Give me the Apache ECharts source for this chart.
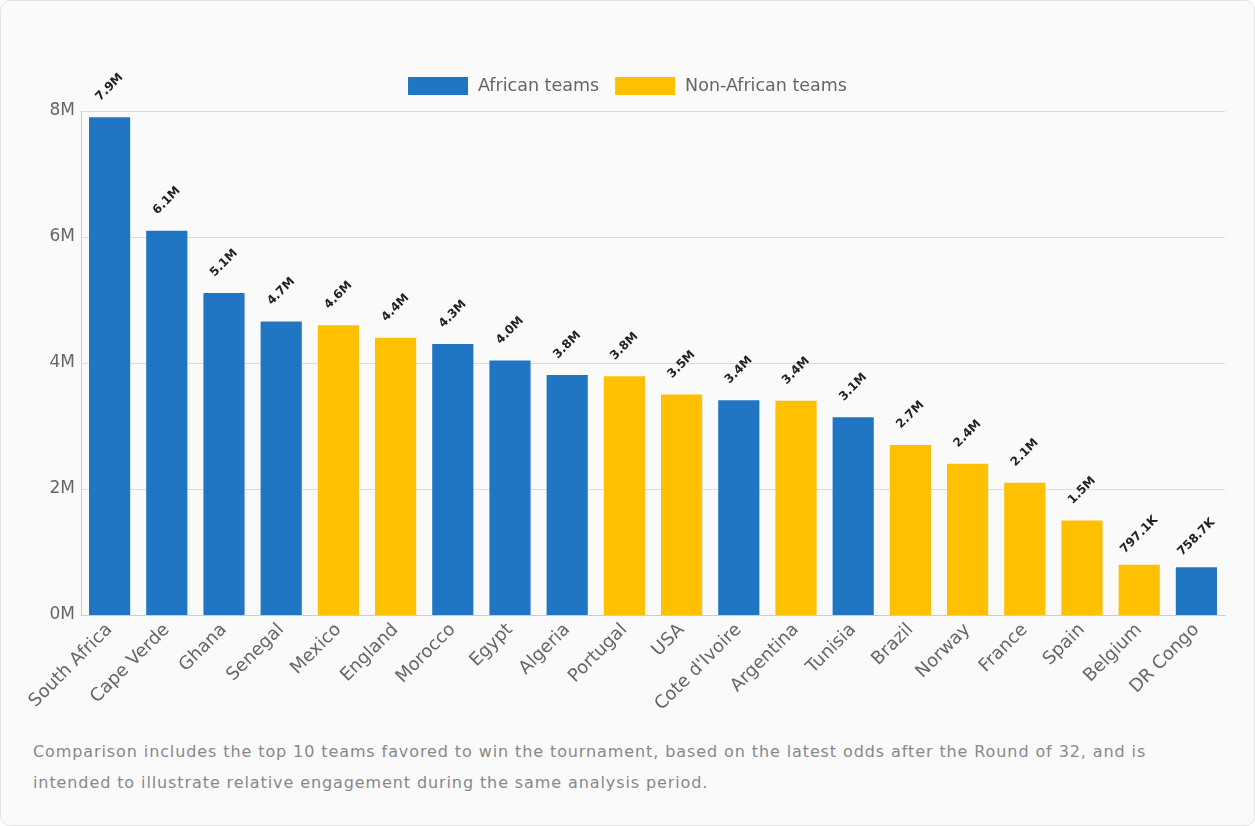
<!DOCTYPE html>
<html>
<head>
<meta charset="utf-8">
<script src="https://cdn.jsdelivr.net/npm/echarts@6/dist/echarts.min.js"></script>
<style>
  html, body { margin: 0; padding: 0; background: #ffffff; }
  .card {
    position: relative;
    width: 1253px;
    height: 824px;
    border: 1px solid #e3e3e3;
    border-radius: 10px;
    background: #fafafa;
    overflow: hidden;
  }
  #chart { position: absolute; left: 0; top: 0; width: 1253px; height: 720px; }
  .note {
    position: absolute;
    left: 32px;
    top: 735px;
    width: 1175px;
    font-family: 'DejaVu Sans', sans-serif;
    font-size: 16px;
    letter-spacing: 0.9px;
    line-height: 31px;
    color: #888;
  }
</style>
</head>
<body>
<div class="card">
  <div id="chart"></div>
  <div class="note">Comparison includes the top 10 teams favored to win the tournament, based on the latest odds after the Round of 32, and is<br>intended to illustrate relative engagement during the same analysis period.</div>
</div>
<script>
// teams in display order
var teams = ['South Africa', 'Cape Verde', 'Ghana', 'Senegal', 'Mexico', 'England', 'Morocco', 'Egypt', 'Algeria', 'Portugal',
  'USA', "Cote d'Ivoire", 'Argentina', 'Tunisia', 'Brazil', 'Norway', 'France', 'Spain', 'Belgium', 'DR Congo']
// engagement per team
var values = [7900000, 6100000, 5110000, 4660000, 4600000, 4400000, 4300000, 4040000, 3810000, 3790000,
  3500000, 3410000, 3400000, 3140000, 2700000, 2400000, 2100000, 1500000, 797100, 758700]
// true = African team
var african = [true, true, true, true, false, false, true, true, true, false,
  false, true, false, true, false, false, false, false, false, true]
var yTicks = [0, 2000000, 4000000, 6000000, 8000000]

var africanData = values.map(function(v, i) { return african[i] ? v : '-' })
var otherData = values.map(function(v, i) { return african[i] ? '-' : v })

function fmtLabel(v) {
  if (v >= 1e6) return (v / 1e6).toFixed(1) + 'M'
  return (v / 1e3).toFixed(1) + 'K'
}

var font = 'DejaVu Sans'
var chart = echarts.init(document.getElementById('chart'))

var barLabel = {
  show: true,
  position: 'top',
  rotate: 45,
  align: 'center',
  verticalAlign: 'middle',
  distance: 30,
  fontFamily: font,
  fontSize: 12,
  fontWeight: 'bold',
  color: '#222',
  formatter: function(p) { return fmtLabel(p.value) }
}

chart.setOption({
  animation: false,
  legend: {
    top: 71,
    left: 'center',
    itemWidth: 60,
    itemHeight: 18,
    itemGap: 16,
    icon: 'rect',
    textStyle: { fontFamily: font, fontSize: 17.5, color: '#666', padding: [0, 0, 0, 5] },
    data: ['African teams', 'Non-African teams']
  },
  grid: {
    left: 80,
    right: 29,
    top: 110,
    bottom: 106
  },
  xAxis: {
    type: 'category',
    data: teams,
    axisTick: { show: false },
    axisLine: { lineStyle: { color: '#ccc' } },
    axisLabel: {
      interval: 0,
      rotate: 45,
      margin: 12,
      fontFamily: font,
      fontSize: 18,
      color: '#666'
    }
  },
  yAxis: {
    type: 'value',
    min: yTicks[0],
    max: yTicks[yTicks.length - 1],
    interval: yTicks[1] - yTicks[0],
    axisLine: { show: true, lineStyle: { color: '#ccc' } },
    axisTick: { show: false },
    splitLine: { lineStyle: { color: '#dcdcdc' } },
    axisLabel: {
      fontFamily: font,
      fontSize: 17,
      color: '#666',
      margin: 6,
      formatter: function(v) { return (v / 1e6) + 'M' }
    }
  },
  series: [{
    name: 'African teams',
    type: 'bar',
    stack: 'all',
    data: africanData,
    barCategoryGap: '28%',
    itemStyle: { color: '#2176c4' },
    label: barLabel
  },
  {
    name: 'Non-African teams',
    type: 'bar',
    stack: 'all',
    data: otherData,
    barCategoryGap: '28%',
    itemStyle: { color: '#ffc000' },
    label: barLabel
  }]
})
</script>
</body>
</html>
